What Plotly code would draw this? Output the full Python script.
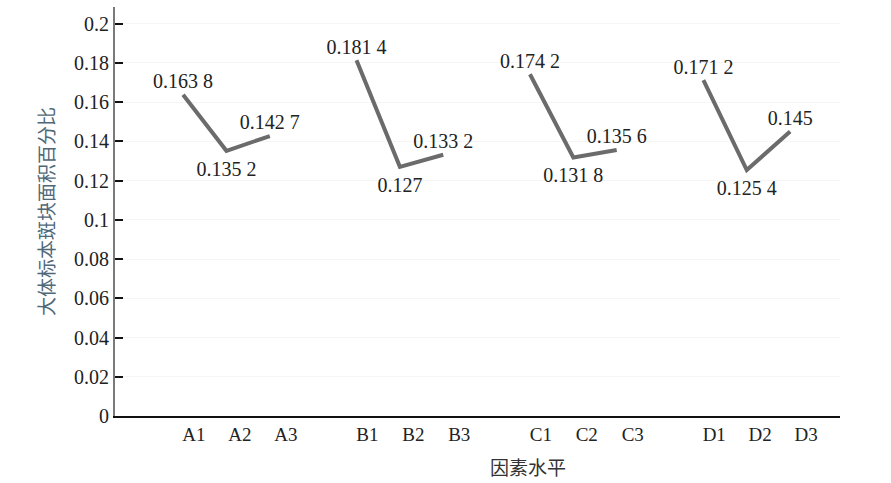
import plotly.graph_objects as go

# ---- data ----
groups = ["A", "B", "C", "D"]
levels = ["1", "2", "3"]
values_A = [0.1638, 0.1352, 0.1427]
values_B = [0.1814, 0.1270, 0.1332]
values_C = [0.1742, 0.1318, 0.1356]
values_D = [0.1712, 0.1254, 0.1450]
labels_A = ["0.163 8", "0.135 2", "0.142 7"]
labels_B = ["0.181 4", "0.127", "0.133 2"]
labels_C = ["0.174 2", "0.131 8", "0.135 6"]
labels_D = ["0.171 2", "0.125 4", "0.145"]
y_ticks = [0, 0.02, 0.04, 0.06, 0.08, 0.1, 0.12, 0.14, 0.16, 0.18, 0.2]
y_tick_text = ["0", "0.02", "0.04", "0.06", "0.08", "0.1", "0.12", "0.14", "0.16", "0.18", "0.2"]
y_title = "大体标本斑块面积百分比"
x_title = "因素水平"

series_values = [values_A, values_B, values_C, values_D]
series_labels = [labels_A, labels_B, labels_C, labels_D]

GROUP_STEP = 4
TICK_STEP = 1.06
TICK_SHIFT = 0.25

SERIF = "Liberation Serif, Times New Roman, serif"

fig = go.Figure()
tickvals, ticktext = [], []
for g, (name, vals, labs) in enumerate(zip(groups, series_values, series_labels)):
    xs = [g * GROUP_STEP + i for i in range(len(levels))]
    fig.add_trace(go.Scatter(
        x=xs, y=vals, mode="lines+markers+text",
        text=labs, textposition=["top center", "bottom center", "top center"],
        textfont=dict(family=SERIF, size=20, color="#222222"),
        line=dict(color="#6b6b6b", width=4),
        marker=dict(size=[1, 14, 1], color="rgba(0,0,0,0)",
                    line=dict(width=0, color="rgba(0,0,0,0)")),
        showlegend=False, cliponaxis=False, hoverinfo="skip",
    ))
    for i, lv in enumerate(levels):
        tickvals.append(g * GROUP_STEP + i * TICK_STEP + TICK_SHIFT)
        ticktext.append(name + lv)

fig.update_layout(
    width=891, height=483,
    margin=dict(l=115, r=51, t=7, b=67),
    plot_bgcolor="white", paper_bgcolor="white",
    showlegend=False,
    xaxis=dict(
        range=[-1.57, 15.15], tickvals=tickvals, ticktext=ticktext,
        showgrid=False, zeroline=False, showline=True, linecolor="#111111", linewidth=2,
        ticks="", tickfont=dict(family=SERIF, size=19, color="#222222"),
    ),
    yaxis=dict(
        range=[0, 0.2085], tickvals=y_ticks, ticktext=y_tick_text,
        showgrid=True, gridcolor="#f5f5f5", gridwidth=1,
        zeroline=False, showline=True, linecolor="#7a7a7a", linewidth=2,
        ticks="inside", ticklen=8, tickwidth=2, tickcolor="#111111",
        tickfont=dict(family=SERIF, size=20, color="#222222"),
        automargin=False,
        title=dict(text=y_title, standoff=14,
                   font=dict(family="Noto Sans CJK SC", size=19, color="#4f6878")),
    ),
    annotations=[dict(
        text=x_title, xref="paper", yref="paper", x=0.57, y=0, yshift=-50,
        xanchor="center", yanchor="middle", showarrow=False,
        font=dict(family="Noto Sans CJK SC", size=19, color="#333333"),
    )],
)

fig.write_html("out.html", config={"displayModeBar": False},
               post_script="document.body.style.margin='0';")
